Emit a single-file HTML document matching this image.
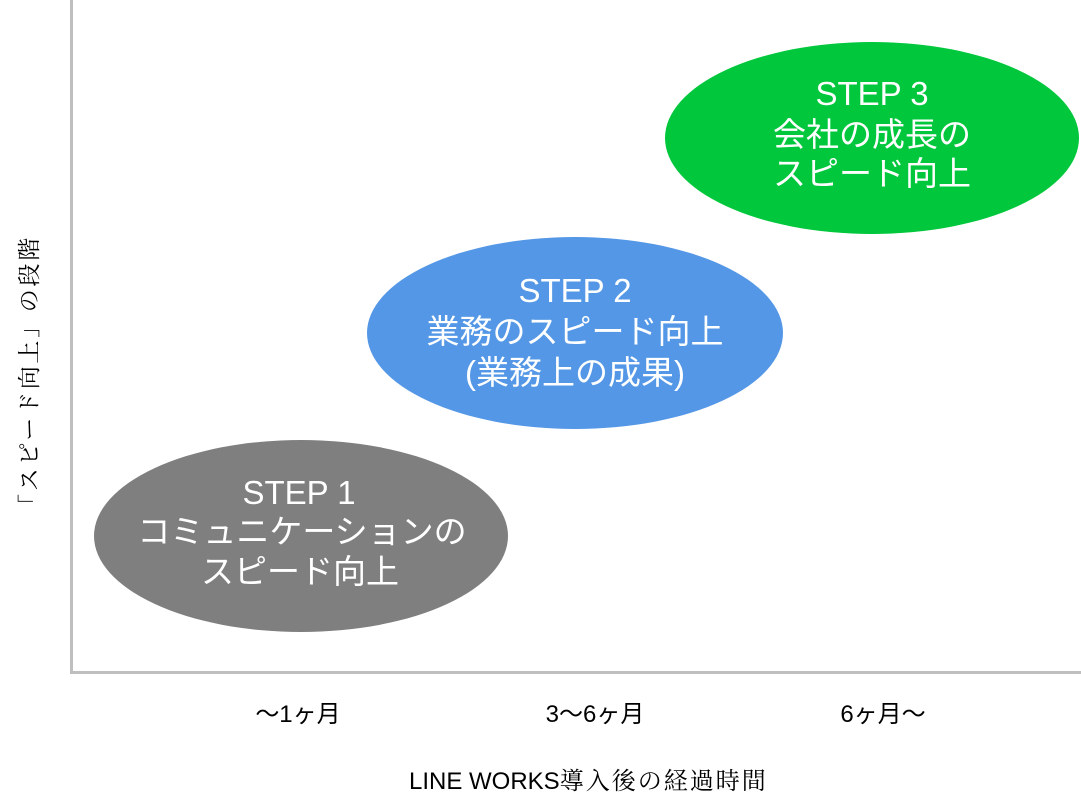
<!DOCTYPE html>
<html>
<head>
<meta charset="utf-8">
<style>
  html, body { margin:0; padding:0; background:#ffffff; }
  body { width:1081px; height:811px; overflow:hidden; position:relative; }
  svg { position:absolute; left:0; top:0; }
  .in { font-family:"Liberation Sans","Noto Sans CJK JP",sans-serif; font-size:33px; fill:#ffffff; }
  .tick { font-family:"Liberation Sans","Noto Sans CJK JP",sans-serif; font-size:24px; fill:#000000; }
  .lat { font-family:"Liberation Sans",sans-serif; font-size:24px; fill:#000000; }
  .ser { font-family:"Liberation Serif","Noto Serif CJK SC",serif; fill:#000000; }
</style>
</head>
<body>
<svg width="1081" height="811" viewBox="0 0 1081 811" xmlns="http://www.w3.org/2000/svg">
  <!-- axes -->
  <line x1="71.5" y1="0" x2="71.5" y2="674" stroke="#bfbfbf" stroke-width="3"/>
  <line x1="70" y1="672.5" x2="1081" y2="672.5" stroke="#bfbfbf" stroke-width="3"/>

  <!-- ellipses -->
  <ellipse cx="301" cy="536" rx="207" ry="96" fill="#7f7f7f"/>
  <ellipse cx="575" cy="333" rx="208" ry="96" fill="#5497e6"/>
  <ellipse cx="872" cy="138" rx="207" ry="96" fill="#00c73c"/>

  <!-- STEP 1 -->
  <text class="in" x="299" y="504" text-anchor="middle">STEP 1</text>
  <text class="in" x="302" y="543" text-anchor="middle">コミュニケーションの</text>
  <text class="in" x="300" y="583" text-anchor="middle">スピード向上</text>

  <!-- STEP 2 -->
  <text class="in" x="575" y="302" text-anchor="middle">STEP 2</text>
  <text class="in" x="575" y="343" text-anchor="middle">業務のスピード向上</text>
  <text class="in" x="575" y="384" text-anchor="middle">(業務上の成果)</text>

  <!-- STEP 3 -->
  <text class="in" x="872" y="105" text-anchor="middle">STEP 3</text>
  <text class="in" x="872" y="146" text-anchor="middle">会社の成長の</text>
  <text class="in" x="872" y="185" text-anchor="middle">スピード向上</text>

  <!-- tick labels -->
  <text class="tick" x="298" y="722" text-anchor="middle">～1ヶ月</text>
  <text class="tick" x="595" y="722" text-anchor="middle">3～6ヶ月</text>
  <text class="tick" x="883" y="722" text-anchor="middle">6ヶ月～</text>

  <!-- x axis title -->
  <text x="409" y="789"><tspan class="lat">LINE WORKS</tspan><tspan class="ser" font-size="24" letter-spacing="2">導入後の経過時間</tspan></text>

  <!-- y axis title -->
  <text class="ser" font-size="23" letter-spacing="2.7" text-anchor="middle" transform="translate(37,376) rotate(-90)">「スピード向上」の段階</text>
</svg>
</body>
</html>
